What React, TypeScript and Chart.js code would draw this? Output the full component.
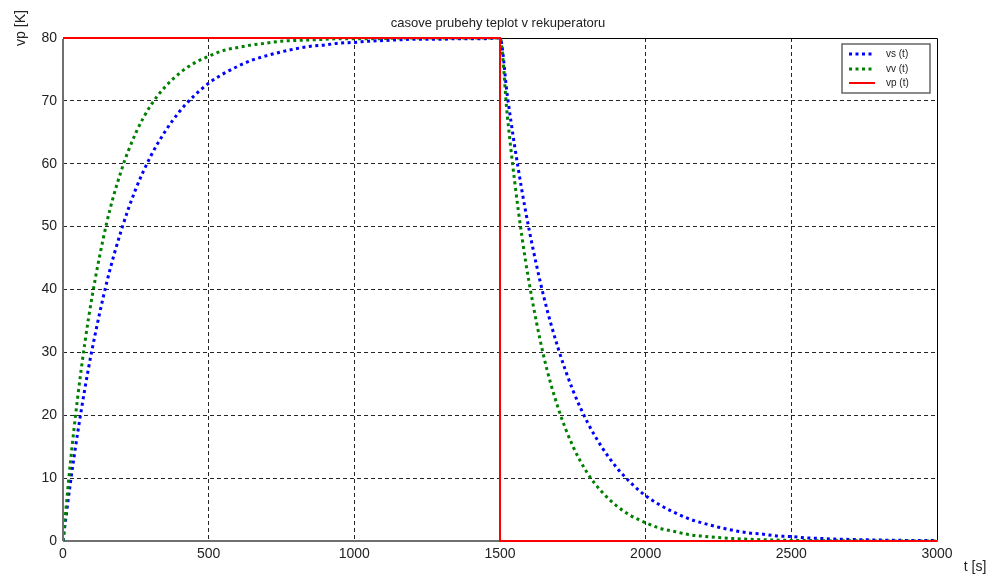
import React, { useEffect, useRef } from "react";
import { Chart, registerables } from "chart.js";

Chart.register(...registerables);

const TITLE = "casove prubehy teplot v rekuperatoru";
const X_LABEL = "t [s]";
const Y_LABEL = "vp [K]";

const TIME = [0, 25, 50, 75, 100, 150, 200, 250, 300, 350, 400, 450, 500, 550, 600, 650, 700, 750, 800, 850, 900, 950, 1000, 1050, 1100, 1150, 1200, 1250, 1300, 1350, 1400, 1450, 1500, 1525, 1550, 1575, 1600, 1650, 1700, 1750, 1800, 1850, 1900, 1950, 2000, 2050, 2100, 2150, 2200, 2250, 2300, 2350, 2400, 2450, 2500, 2550, 2600, 2650, 2700, 2750, 2800, 2850, 2900, 2950, 3000];

const VS = [0, 9.1, 17.1, 24.2, 30.5, 41.1, 49.4, 56.0, 61.1, 65.1, 68.3, 70.8, 72.8, 74.3, 75.5, 76.5, 77.2, 77.8, 78.3, 78.7, 78.9, 79.2, 79.3, 79.5, 79.6, 79.7, 79.8, 79.8, 79.8, 79.9, 79.9, 79.9, 80.0, 70.9, 62.9, 55.8, 49.5, 38.9, 30.6, 24.0, 18.9, 14.9, 11.7, 9.2, 7.2, 5.7, 4.5, 3.5, 2.8, 2.2, 1.7, 1.3, 1.1, 0.8, 0.7, 0.5, 0.4, 0.3, 0.25, 0.2, 0.15, 0.12, 0.09, 0.07, 0.06];

const VV = [0, 12.3, 22.7, 31.5, 38.9, 50.6, 58.9, 64.9, 69.2, 72.2, 74.4, 76.0, 77.1, 78.0, 78.5, 78.9, 79.2, 79.5, 79.6, 79.7, 79.8, 79.9, 79.9, 79.9, 79.9, 80, 80, 80, 80, 80, 80, 80, 80, 67.7, 57.3, 48.5, 41.1, 29.4, 21.1, 15.1, 10.8, 7.8, 5.6, 4.0, 2.9, 2.0, 1.5, 1.0, 0.75, 0.54, 0.38, 0.28, 0.2, 0.14, 0.1, 0.07, 0.05, 0.04, 0.03, 0.02, 0.01, 0.01, 0.01, 0, 0];

const VP_TIME = [0, 1500, 1500, 3000];
const VP = [80, 80, 0, 0];

const SERIES_LABELS = ["vs (t)", "vv (t)", "vp (t)"];
const X_TICKS = [0, 500, 1000, 1500, 2000, 2500, 3000];
const Y_TICKS = [0, 10, 20, 30, 40, 50, 60, 70, 80];

const FONT = "'Liberation Sans', Arial, sans-serif";

const framePlugin = {
  id: "frame",
  beforeDatasetsDraw(chart: any) {
    const { ctx, chartArea: a } = chart;
    ctx.save();
    ctx.setLineDash([]);
    ctx.strokeStyle = "#000";
    ctx.lineWidth = 1;
    ctx.beginPath();
    ctx.moveTo(a.left, a.top + 0.5);
    ctx.lineTo(a.right + 0.5, a.top + 0.5);
    ctx.lineTo(a.right + 0.5, a.bottom);
    ctx.stroke();
    ctx.strokeStyle = "#707070";
    ctx.lineWidth = 2;
    ctx.beginPath();
    ctx.moveTo(a.left, a.bottom);
    ctx.lineTo(a.right + 1, a.bottom);
    ctx.stroke();
    ctx.restore();
  },
  afterDraw(chart: any) {
    const { ctx, chartArea: a } = chart;
    ctx.save();
    ctx.setLineDash([]);
    ctx.strokeStyle = "#707070";
    ctx.lineWidth = 2;
    ctx.beginPath();
    ctx.moveTo(a.left, a.top + 1);
    ctx.lineTo(a.left, a.bottom);
    ctx.stroke();

    ctx.fillStyle = "#222";
    ctx.textAlign = "center";
    ctx.textBaseline = "middle";
    ctx.font = `13px ${FONT}`;
    ctx.fillText(TITLE, (a.left + a.right) / 2 - 2, 23);
    ctx.font = `14px ${FONT}`;
    ctx.fillText(X_LABEL, 975, 567);
    ctx.save();
    ctx.translate(21, 28);
    ctx.rotate(-Math.PI / 2);
    ctx.fillText(Y_LABEL, 0, 0);
    ctx.restore();

    // legend
    const bx = 842, by = 44, bw = 88, bh = 49;
    ctx.fillStyle = "#fff";
    ctx.fillRect(bx, by, bw, bh);
    ctx.strokeStyle = "#666";
    ctx.lineWidth = 1.5;
    ctx.strokeRect(bx, by, bw, bh);
    const rows = [54, 69, 83];
    chart.data.datasets.forEach((ds: any, i: number) => {
      const y = rows[i];
      ctx.save();
      ctx.strokeStyle = ds.borderColor;
      ctx.lineWidth = ds.borderWidth;
      ctx.setLineDash(ds.borderDash || []);
      ctx.beginPath();
      ctx.moveTo(849, y);
      ctx.lineTo(875, y);
      ctx.stroke();
      ctx.restore();
      ctx.fillStyle = "#222";
      ctx.font = `10px ${FONT}`;
      ctx.textAlign = "left";
      ctx.textBaseline = "middle";
      ctx.fillText(ds.label, 886, y);
    });
    ctx.restore();
  },
};

export default function App() {
  const ref = useRef<HTMLCanvasElement | null>(null);
  useEffect(() => {
    if (!ref.current) return;
    const gridColor = (c: any) => {
      const v = c.tick ? c.tick.value : null;
      const sc = c.scale;
      if (v === sc.min || v === sc.max) return "rgba(0,0,0,0)";
      return "rgba(0,0,0,0.85)";
    };
    const fmt = (v: any) => String(v);
    const chart = new Chart(ref.current, {
      type: "line",
      data: {
        datasets: [
          {
            label: SERIES_LABELS[0],
            data: TIME.map((t, i) => ({ x: t, y: VS[i] })),
            borderColor: "#0000ff",
            borderWidth: 3,
            borderDash: [3, 3.5],
            borderCapStyle: "butt",
            pointRadius: 0,
            fill: false,
            cubicInterpolationMode: "monotone",
            order: 2,
          },
          {
            label: SERIES_LABELS[1],
            data: TIME.map((t, i) => ({ x: t, y: VV[i] })),
            borderColor: "#008000",
            borderWidth: 3,
            borderDash: [3, 3.5],
            borderCapStyle: "butt",
            pointRadius: 0,
            fill: false,
            cubicInterpolationMode: "monotone",
            order: 1,
          },
          {
            label: SERIES_LABELS[2],
            data: VP_TIME.map((t, i) => ({ x: t, y: VP[i] })),
            borderColor: "#ff0000",
            borderWidth: 2,
            pointRadius: 0,
            fill: false,
            tension: 0,
            clip: 4,
            order: 0,
          },
        ] as any,
      },
      options: {
        animation: false,
        responsive: false,
        events: [],
        layout: { padding: { top: 38, right: 55, left: 0, bottom: 0 } },
        plugins: { legend: { display: false }, tooltip: { enabled: false }, title: { display: false } },
        scales: {
          x: {
            type: "linear",
            min: 0,
            max: 3000,
            afterFit: (s: any) => { s.height = 35; },
            afterBuildTicks: (s: any) => { s.ticks = X_TICKS.map((v) => ({ value: v })); },
            ticks: { color: "#222", font: { family: FONT, size: 14 }, padding: 5, maxRotation: 0, callback: fmt },
            grid: { color: gridColor, lineWidth: 1, drawTicks: false },
            border: { display: false, dash: [4, 3] },
          },
          y: {
            type: "linear",
            min: 0,
            max: 80,
            afterFit: (s: any) => { s.width = 63; },
            afterBuildTicks: (s: any) => { s.ticks = Y_TICKS.map((v) => ({ value: v })); },
            ticks: { color: "#222", font: { family: FONT, size: 14 }, padding: 6, callback: fmt },
            grid: { color: gridColor, lineWidth: 1, drawTicks: false },
            border: { display: false, dash: [4, 3] },
          },
        },
      } as any,
      plugins: [framePlugin],
    });
    return () => chart.destroy();
  }, []);
  return (
    <div style={{ position: "fixed", left: 0, top: 0, width: 992, height: 576, background: "#fff" }}>
      <canvas ref={ref} width={992} height={576} style={{ display: "block" }} />
    </div>
  );
}
